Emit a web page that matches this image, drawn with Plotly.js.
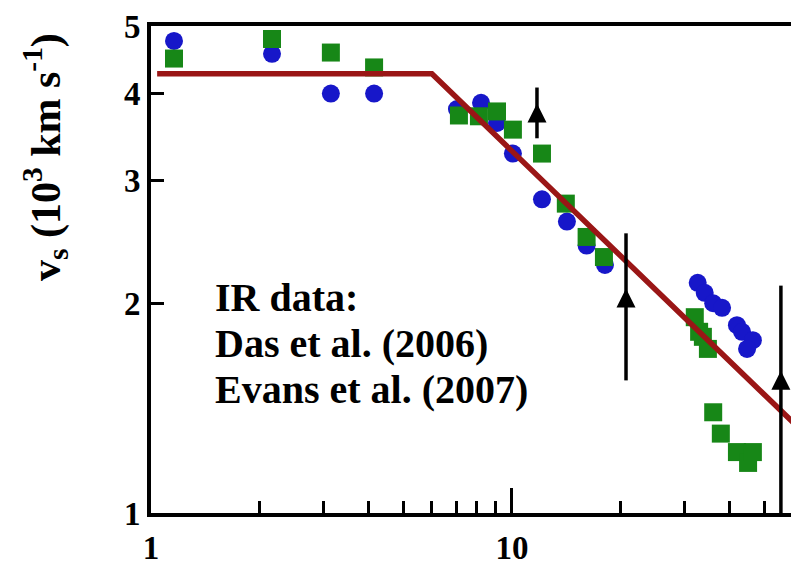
<!DOCTYPE html>
<html>
<head>
<meta charset="utf-8">
<script src="https://cdn.plot.ly/plotly-3.0.1.min.js"></script>
<style>html,body{margin:0;padding:0;background:#fff;}#chart{width:791px;height:571px;}</style>
</head>
<body>
<div id="chart"></div>
<script>
// Das et al. (2006) - blue circles
const dasX = [1.158, 2.164, 3.15, 4.15, 7.04, 8.21, 9.09, 10.06, 12.11, 14.2, 16.1, 18.1,
              32.7, 34.2, 36.1, 38.2, 42.0, 43.4, 46.5, 44.8];
const dasY = [4.76, 4.56, 4.00, 4.00, 3.80, 3.88, 3.63, 3.28, 2.82, 2.62, 2.42, 2.27,
              2.14, 2.07, 2.00, 1.97, 1.86, 1.82, 1.77, 1.72];
// Evans et al. (2007) - green squares
const evansX = [1.158, 2.164, 3.15, 4.15, 7.13, 8.10, 9.09, 10.06, 12.11, 14.1, 16.1, 17.98,
                32.1, 33.0, 33.8, 34.9, 36.1, 37.9, 42.0, 45.1, 46.5];
const evansY = [4.49, 4.79, 4.58, 4.36, 3.72, 3.71, 3.77, 3.55, 3.28, 2.78, 2.49, 2.33,
                1.91, 1.82, 1.79, 1.72, 1.395, 1.30, 1.223, 1.18, 1.223];
// Model fit (broken power law)
const fitX = [1.04, 6.0, 70];
const fitY = [4.27, 4.27, 1.25];
// Lower limits (arrows)
const limX = [11.73, 20.7, 55.6];
const limLow = [3.45, 1.55, 1.0];
const limHigh = [4.08, 2.52, 2.12];
const limTip = [3.87, 2.10, 1.60];

const tickX = [1, 10];
const minorTickX = [2, 3, 4, 5, 6, 7, 8, 9, 20, 30, 40, 50];
const tickY = [1, 2, 3, 4, 5];
const legendLines = ['IR data:', 'Das et al. (2006)', 'Evans et al. (2007)'];

const barX = [], barY = [];
limX.forEach((x, i) => { barX.push(x, x, null); barY.push(limLow[i], limHigh[i], null); });

const serif = 'Liberation Serif, Times New Roman, serif';
const data = [
  {x: dasX, y: dasY, type: 'scatter', mode: 'markers',
   marker: {symbol: 'circle', size: 18, color: '#1717c9', line: {width: 0}}},
  {x: evansX, y: evansY, type: 'scatter', mode: 'markers',
   marker: {symbol: 'square', size: 18, color: '#178717', line: {width: 0}}},
  {x: fitX, y: fitY, type: 'scatter', mode: 'lines',
   line: {color: '#9a1616', width: 5.5}},
  {x: barX, y: barY, type: 'scatter', mode: 'lines',
   line: {color: '#000', width: 3.5}},
  {x: limX, y: limTip, type: 'scatter', mode: 'markers',
   marker: {symbol: 'arrow-up', size: 19, color: '#000', line: {width: 0}}}
];

const tf = {family: serif, size: 33, color: '#000', weight: 'bold'};
const textY = [297, 343, 389];
const annotations = legendLines.map((t, i) => ({
  xref: 'paper', yref: 'paper', x: (213 - 151) / 640, y: (513 - textY[i]) / 487,
  xanchor: 'left', yanchor: 'middle', align: 'left', showarrow: false, text: t,
  font: {family: serif, size: 40, color: '#000', weight: 'bold'}
}));
annotations.push({xref: 'paper', yref: 'paper', x: (45 - 151) / 640, y: (513 - 157) / 487,
  xanchor: 'center', yanchor: 'middle', textangle: -90, showarrow: false,
  text: 'v<sub>s</sub> (10<sup>3</sup> km s<sup>-1</sup>)',
  font: {family: serif, size: 42, color: '#000', weight: 'bold'}});

const layout = {
  width: 791, height: 571,
  margin: {l: 151, r: 0, t: 26, b: 58},
  showlegend: false,
  paper_bgcolor: '#fff', plot_bgcolor: '#fff',
  xaxis: {
    type: 'log', range: [0, Math.log10(59.3)],
    tickmode: 'array', tickvals: tickX, ticktext: tickX.map(String),
    ticks: 'inside', ticklen: 25, tickwidth: 3, tickcolor: '#000',
    showline: true, linewidth: 4, linecolor: '#000', mirror: true,
    showgrid: false, zeroline: false, tickfont: tf, ticklabelstandoff: 2,
    minor: {tickmode: 'array', tickvals: minorTickX, ticks: 'inside', ticklen: 12,
            tickwidth: 3, tickcolor: '#000', showgrid: false}
  },
  yaxis: {
    type: 'log', range: [0, Math.log10(5)],
    tickmode: 'array', tickvals: tickY, ticktext: tickY.map(String),
    ticks: 'inside', ticklen: 13, tickwidth: 3, tickcolor: '#000',
    showline: true, linewidth: 4, linecolor: '#000',
    showgrid: false, zeroline: false, tickfont: tf
  },
  annotations: annotations
};

Plotly.newPlot('chart', data, layout, {displayModeBar: false, staticPlot: true});
</script>
</body>
</html>
